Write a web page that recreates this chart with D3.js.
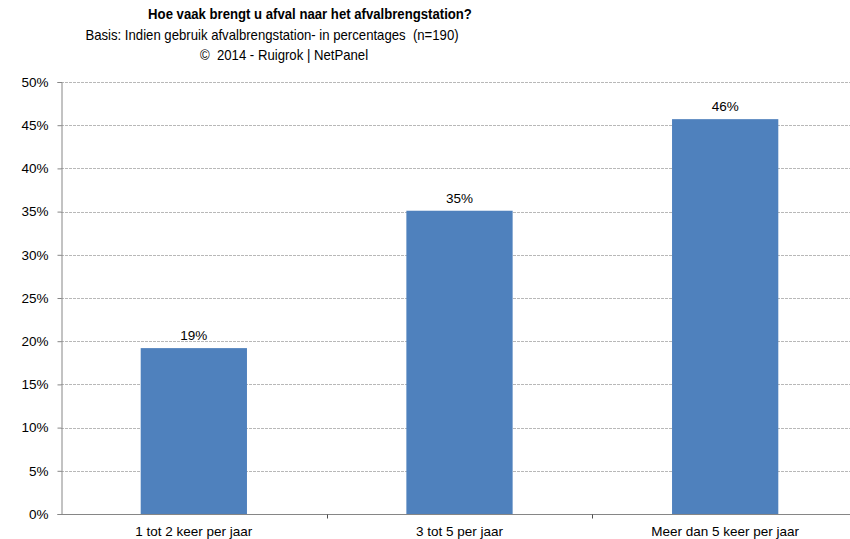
<!DOCTYPE html>
<html><head><meta charset="utf-8">
<script src="https://cdn.jsdelivr.net/npm/d3@7"></script>
<style>
body{margin:0;background:#fff;}
text{font-family:"Liberation Sans",Arial,sans-serif;fill:#000;white-space:pre;}
</style></head>
<body>
<svg id="chart" width="850" height="539"></svg>
<script>
const categories = ["1 tot 2 keer per jaar", "3 tot 5 per jaar", "Meer dan 5 keer per jaar"];
const values = [19.2, 35.1, 45.7];
const valueLabels = ["19%", "35%", "46%"];
const yTicks = [0, 5, 10, 15, 20, 25, 30, 35, 40, 45, 50];
const titleLines = [
  "Hoe vaak brengt u afval naar het afvalbrengstation?",
  "Basis: Indien gebruik afvalbrengstation- in percentages  (n=190)",
  "©  2014 - Ruigrok | NetPanel"
];

(function () {
const svg = d3.select("#chart");
const pLeft = 61, pRight = 858, pTop = 82, pBottom = 514;

const x = d3.scaleBand().domain(categories).range([pLeft, pRight]).paddingInner(0.6).paddingOuter(0.3);
const xb = d3.scaleBand().domain(categories).range([pLeft, pRight]).padding(0);
const y = d3.scaleLinear().domain([0, 50]).range([pBottom, pTop]);

// gridlines
svg.append("g").selectAll("line").data(yTicks.filter(d => d > 0)).join("line")
  .attr("x1", pLeft).attr("x2", 850)
  .attr("y1", d => Math.round(y(d)) + 0.5).attr("y2", d => Math.round(y(d)) + 0.5)
  .attr("stroke", "#b8b8b8").attr("stroke-width", 1).attr("stroke-dasharray", "3,1");

// bars
svg.append("g").selectAll("rect").data(values).join("rect")
  .attr("x", (d, i) => x(categories[i]))
  .attr("width", x.bandwidth())
  .attr("y", d => y(d))
  .attr("height", d => y(0) - y(d))
  .attr("fill", "#4f81bd");

// value labels
svg.append("g").selectAll("text").data(values).join("text")
  .attr("x", (d, i) => x(categories[i]) + x.bandwidth() / 2)
  .attr("y", d => y(d) - 8)
  .attr("text-anchor", "middle")
  .attr("font-size", "13.5px")
  .text((d, i) => valueLabels[i]);

// y axis
const yAxis = d3.axisLeft(y).tickValues(yTicks).tickFormat(d => d + "%").tickSize(4).tickPadding(9);
const gy = svg.append("g").attr("transform", `translate(${pLeft + 0.5},0)`).call(yAxis);
gy.select(".domain").attr("stroke", "#868686");
gy.selectAll(".tick line").attr("stroke", "#868686");
gy.selectAll(".tick text").attr("font-size", "13.5px").attr("font-family", "Liberation Sans, Arial, sans-serif").attr("fill", "#000");

// x axis
const gx = svg.append("g").attr("transform", `translate(0,${pBottom + 0.5})`);
gx.append("line").attr("x1", pLeft).attr("x2", 850).attr("stroke", "#868686");
const bounds = categories.slice(1).map(c => xb(c));
gx.selectAll("line.tk").data(bounds).join("line").attr("class", "tk")
  .attr("x1", d => Math.round(d) + 0.5).attr("x2", d => Math.round(d) + 0.5)
  .attr("y1", 0).attr("y2", 4).attr("stroke", "#4d4d4d");
gx.selectAll("text").data(categories).join("text")
  .attr("x", d => xb(d) + xb.bandwidth() / 2)
  .attr("y", 21)
  .attr("text-anchor", "middle")
  .attr("font-size", "13.5px")
  .text(d => d);

// titles
const tpos = [[310, 19, "bold"], [272, 40, "normal"], [284, 60, "normal"]];
titleLines.forEach((t, i) => {
  svg.append("g").attr("transform", `translate(${tpos[i][0]},${tpos[i][1]}) scale(0.94,1)`)
    .append("text").attr("text-anchor", "middle")
    .attr("font-size", "14px").attr("font-weight", tpos[i][2]).text(t);
});
})();
</script>
</body></html>
